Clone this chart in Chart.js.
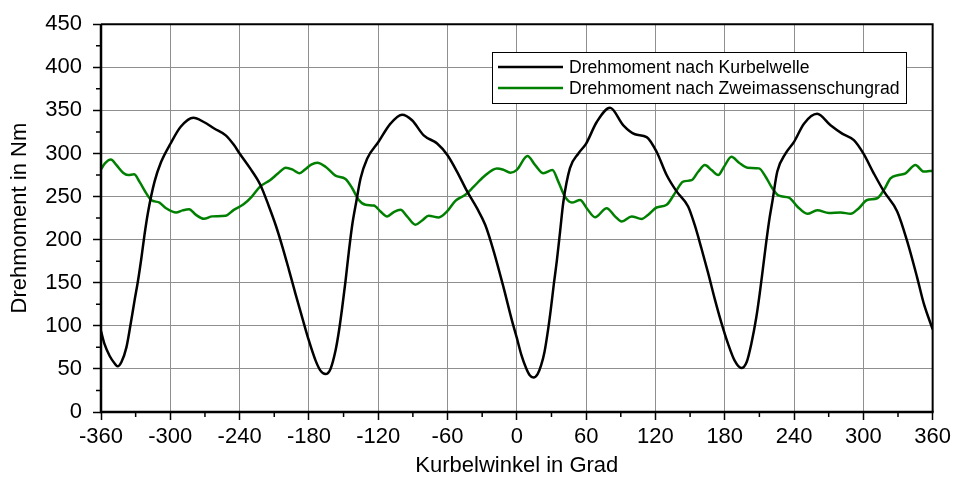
<!DOCTYPE html>
<html>
<head>
<meta charset="utf-8">
<script src="https://cdn.jsdelivr.net/npm/chart.js@4"></script>
<style>
  html, body { margin: 0; padding: 0; background: #fff; }
</style>
</head>
<body>
<canvas id="torqueChart" width="955" height="480"></canvas>
<script>
// Kurbelwelle: Winkel [Grad] / Moment [Nm]
const winkelKW = [-360, -357, -352.5, -348, -345.7, -342.3, -338, -334.6, -331, -328, -325, -322.3, -319.4, -313.7, -308, -300, -291, -280, -271, -262, -252, -245, -240,
  -231, -222, -214.6, -208.8, -203, -197.3, -191.5, -185.8, -180, -174.2, -170, -165.6, -161.3, -157, -154, -151.2, -148.3, -145.4, -142.5, -139, -135.3, -129.6,
  -120, -109.4, -99.3, -90.7, -80.6, -69, -60, -51.8, -43, -34.5, -27.3, -20, -11.4, -4.2, 0, 4, 8, 11, 14.4, 18, 21, 24, 27, 29.5, 32, 34.6, 37.5, 40.3,
  46, 53.3, 60, 69.2, 80.7, 92.2, 102.3, 112.4, 121, 129.7, 138.3, 148.3, 154, 159.8, 165.6, 171.4, 177, 182.9, 188.6, 194.4, 199, 203, 207.3, 210.2,
  213.1, 216, 218.8, 221.2, 225.5, 232.7, 240, 248.6, 260, 271.6, 281.7, 291.8, 300, 309, 317.8, 329.3, 338, 346.6, 352.3, 360];
const momentKW = [94, 79, 65, 56, 53, 58, 75, 100, 129, 152, 179, 206, 231, 267, 290, 311, 331, 341.5, 336.5, 329, 321, 310, 300,
  283, 263.5, 238.5, 217, 192, 165, 136.5, 109.6, 82.7, 59.6, 48, 44, 50, 71, 94, 121, 152, 186.5, 217, 244, 271, 294,
  313, 334.6, 345, 338.5, 321, 311.5, 298, 279, 256, 236.5, 217, 186.5, 144, 106, 86, 66, 51, 43, 40, 44, 54, 70, 95, 120, 148, 175, 210, 244,
  283, 300, 311.5, 336.5, 353, 332.7, 322.3, 319, 302, 275, 256, 238.5, 217, 190, 161.5, 131, 104, 79, 59.6, 51, 58, 79, 109.6, 136.5,
  167, 198, 225, 244, 279, 300, 313.5, 334.6, 346, 332.7, 323, 315.4, 300, 277, 256, 232.7, 198, 156, 126, 96];

// Zweimassenschwungrad: Winkel [Grad] / Moment [Nm]
const winkelZMS = [-360, -356.6, -351.4, -346.6, -340.9, -336.6, -331.4, -326.6, -320.9, -316.6, -309.4, -303.7, -295, -289.4, -283.7, -278, -270.9, -263.7, -252.3,
  -245, -236.6, -229.4, -222.3, -213.7, -206.6, -200, -193.7, -188, -183.7, -178, -172.8, -165.6, -157, -148.3, -142.5, -136.8, -131, -123.8,
  -118, -112.3, -106.5, -100.7, -95, -87.8, -82, -76.3, -67.6, -60.4, -53.2, -44.6, -37.3, -28.7, -17.2, -11.4, -5.6, 0,
  9.2, 15.9, 23, 30.8, 36, 41.8, 47.6, 54.8, 60.5, 67.7, 77.8, 85, 90.8, 99.4, 108, 113.8, 121, 129.7, 136.9, 144, 151.3, 157, 162.8, 168.6, 174.4,
  179.4, 185.8, 192.4, 199.6, 209.7, 215.4, 221.2, 227, 235.6, 242.8, 251.5, 260.1, 270.2, 280.3, 289, 296.1, 303.3, 312, 317.8, 323.5, 330.7, 336.5, 345.1, 352.3, 360];
const momentZMS = [281.5, 288.5, 293, 286.5, 277.7, 275, 275.8, 267, 254, 246, 243, 236.5, 231.5, 234, 235.4, 229, 224.2, 227, 227.7,
  234.6, 241, 250, 261.5, 269, 277, 283.5, 281, 277, 281, 287, 289.2, 284.6, 274.2, 270.4, 259.6, 246, 240.4, 239.6,
  232.7, 227, 232, 234.6, 227, 217.3, 222.3, 227.7, 225.8, 232.7, 245, 252, 261.5, 273, 282.7, 281, 277.7, 281,
  297, 286.5, 277, 280.8, 267, 249.6, 243, 246, 236.5, 226, 236.5, 227, 221, 227, 224, 229, 237.3, 240.4, 254, 267.3, 269, 278.8, 286.5, 280.8, 275,
  284.6, 296.2, 289.2, 283.5, 282.7, 273, 259.6, 251, 248.8, 238.5, 230, 234, 231, 231.5, 230, 236.5, 246, 248, 257.7, 271, 275, 277, 286.5, 279, 280];

const seriesNames = ['Drehmoment nach Kurbelwelle', 'Drehmoment nach Zweimassenschungrad'];
const seriesColors = ['#000000', '#008000'];

const FONT = '"Liberation Sans", Arial, sans-serif';
Chart.defaults.font.family = FONT;
Chart.defaults.color = '#000';

const toPoints = (xs, ys) => xs.map((x, i) => ({ x, y: ys[i] }));

// frame around the plot area plus the short minor ticks between labelled ones
const frameAndMinorTicks = {
  id: 'frameAndMinorTicks',
  afterDatasetsDraw(chart) {
    const { ctx, chartArea: a, scales } = chart;
    ctx.save();
    ctx.strokeStyle = '#000';
    ctx.lineWidth = 1.5;
    const xt = scales.x.ticks, yt = scales.y.ticks;
    ctx.beginPath();
    for (let i = 0; i < xt.length - 1; i++) {
      const px = scales.x.getPixelForValue((xt[i].value + xt[i + 1].value) / 2);
      ctx.moveTo(px, a.bottom); ctx.lineTo(px, a.bottom + 5);
    }
    for (let i = 0; i < yt.length - 1; i++) {
      const py = scales.y.getPixelForValue((yt[i].value + yt[i + 1].value) / 2);
      ctx.moveTo(a.left - 5, py); ctx.lineTo(a.left, py);
    }
    ctx.stroke();

    ctx.lineWidth = 2;
    ctx.beginPath();
    ctx.moveTo(a.left, a.top); ctx.lineTo(a.right, a.top); ctx.lineTo(a.right, a.bottom);
    ctx.stroke();
    ctx.lineWidth = 2.5;
    ctx.beginPath();
    ctx.moveTo(a.left, a.top); ctx.lineTo(a.left, a.bottom); ctx.lineTo(a.right + 1, a.bottom);
    ctx.stroke();
    ctx.restore();
  }
};

// boxed legend in the upper right of the plot
const boxLegend = {
  id: 'boxLegend',
  afterDraw(chart) {
    const { ctx, chartArea: a } = chart;
    const sets = chart.data.datasets;
    ctx.save();
    ctx.font = '17.6px ' + FONT;
    const textW = Math.max(...sets.map(d => ctx.measureText(d.label).width));
    const lineLen = 65, gap = 6, rowH = 21;
    const w = Math.round(gap + lineLen + gap + textW + gap);
    const h = 51;
    const x = Math.round(a.right - 27 - w);
    const y = Math.round(a.top + 28);
    ctx.fillStyle = '#fff';
    ctx.fillRect(x, y, w, h);
    ctx.strokeStyle = '#000';
    ctx.lineWidth = 1;
    ctx.strokeRect(x + 0.5, y + 0.5, w, h);
    ctx.textBaseline = 'middle';
    sets.forEach((d, i) => {
      const cy = y + 15 + i * rowH;
      ctx.strokeStyle = d.borderColor;
      ctx.lineWidth = 2.5;
      ctx.beginPath();
      ctx.moveTo(x + gap, cy); ctx.lineTo(x + gap + lineLen, cy);
      ctx.stroke();
      ctx.fillStyle = '#000';
      ctx.fillText(d.label, x + gap + lineLen + gap, cy + 1);
    });
    ctx.restore();
  }
};

new Chart(document.getElementById('torqueChart'), {
  type: 'line',
  data: {
    datasets: [
      { label: seriesNames[0], data: toPoints(winkelKW, momentKW), borderColor: seriesColors[0] },
      { label: seriesNames[1], data: toPoints(winkelZMS, momentZMS), borderColor: seriesColors[1] }
    ]
  },
  options: {
    responsive: false,
    animation: false,
    layout: { padding: { top: 21, right: 20, left: 0, bottom: 0 } },
    elements: {
      point: { radius: 0 },
      line: { borderWidth: 2.5, cubicInterpolationMode: 'monotone', fill: false }
    },
    plugins: { legend: { display: false }, tooltip: { enabled: false } },
    scales: {
      x: {
        type: 'linear', min: -360, max: 360,
        ticks: { stepSize: 60, font: { size: 22 }, padding: 4, maxRotation: 0 },
        grid: { color: '#8f8f8f', lineWidth: 1, tickColor: '#000', tickLength: 8, tickWidth: 1.5 },
        border: { display: false },
        title: { display: true, text: 'Kurbelwinkel in Grad', font: { size: 22 }, padding: { top: 0, bottom: 1 } },
        afterFit(s) { s.height = 68; }
      },
      y: {
        min: 0, max: 450,
        ticks: { stepSize: 50, font: { size: 22 }, padding: 11 },
        grid: { color: '#8f8f8f', lineWidth: 1, tickColor: '#000', tickLength: 8, tickWidth: 1.5 },
        border: { display: false },
        title: { display: true, text: 'Drehmoment in Nm', font: { size: 22 }, padding: { top: 7, bottom: 0 } },
        afterFit(s) { s.width = 101; }
      }
    }
  },
  plugins: [frameAndMinorTicks, boxLegend]
});
</script>
</body>
</html>
